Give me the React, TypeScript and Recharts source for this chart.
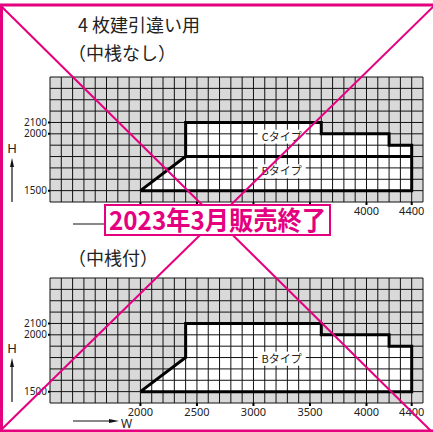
import React from 'react'
import { ComposedChart, Area, Scatter, XAxis, YAxis, CartesianGrid } from 'recharts'

// W (mm) / H (mm)
const wTicks = [2000, 2500, 3000, 3500, 4000, 4400]
const hTicks = [1500, 2000, 2100]
const gridW = [1200, 1300, 1400, 1500, 1600, 1700, 1800, 1900, 2000, 2100, 2200, 2300, 2400, 2500, 2600, 2700, 2800, 2900, 3000, 3100, 3200, 3300, 3400, 3500, 3600, 3700, 3800, 3900, 4000, 4100, 4200, 4300, 4400, 4500]
const gridH = [1400, 1500, 1600, 1700, 1800, 1900, 2000, 2100, 2200, 2300, 2400, 2500]
// labels left visible above the banner in the upper chart
const wTicksShownTop = [4000, 4400]

// available range (outer boundary)
const rangeTop = [
  { w: 2000, h: 1500 },
  { w: 2400, h: 1800 },
  { w: 2400, h: 2100 },
  { w: 3600, h: 2100 },
  { w: 3600, h: 2000 },
  { w: 4200, h: 2000 },
  { w: 4200, h: 1900 },
  { w: 4400, h: 1900 },
  { w: 4400, h: 1500 }
]
const rangeOutline = [...rangeTop, { w: 2000, h: 1500 }]
// B / C boundary (中桟なし only)
const bcDivider = [{ w: 2400, h: 1800 }, { w: 4400, h: 1800 }]

const labelsNoMullion = [
  { w: 3250, h: 1975, name: 'Cタイプ' },
  { w: 3250, h: 1670, name: 'Bタイプ' }
]
const labelsMullion = [{ w: 3250, h: 1790, name: 'Bタイプ' }]

const PINK = '#e4007f'
const FONT = '"Noto Sans", "Noto Sans CJK JP", sans-serif'
const JP = '"Noto Sans CJK JP", sans-serif'

const TypeLabel = (p: any) => {
  const { cx, cy, payload } = p
  return (
    <g>
      <rect x={cx - 24} y={cy - 7} width={48} height={14} fill="#fff" />
      <text x={cx} y={cy + 4} textAnchor="middle" fontSize={11} fontFamily={JP} fill="#222">{payload.name}</text>
    </g>
  )
}

const Empty = () => <g />

function RangeChart({ labels, divider, shown }: { labels: any[]; divider: boolean; shown: number[] }) {
  const WTick = (p: any) => {
    const { x, y, payload } = p
    if (!shown.includes(payload.value)) return <g />
    return (
      <text x={x} y={y + 8} textAnchor="middle" fontSize={11} fill="#222" fontFamily={FONT}>{payload.value}</text>
    )
  }
  const HTick = (p: any) => {
    const { x, y, payload } = p
    return (
      <text x={x + 1} y={y + 3.5} textAnchor="end" fontSize={10} fill="#222" fontFamily={FONT}>{payload.value}</text>
    )
  }
  return (
    <ComposedChart width={433} height={230} data={rangeTop} margin={{ top: 77, right: 10, bottom: 0, left: 10 }}>
      <CartesianGrid fill="#d9d9d9" horizontal={false} vertical={false} />
      <XAxis dataKey="w" type="number" domain={[1200, 4500]} ticks={wTicks} interval={0} axisLine={false}
        tickSize={3} tickLine={{ stroke: '#000', strokeWidth: 2 }} height={28} tick={WTick} />
      <YAxis dataKey="h" type="number" domain={[1400, 2500]} ticks={hTicks} interval={0} axisLine={false}
        tickSize={2} tickLine={{ stroke: '#000', strokeWidth: 2 }} width={40} tick={HTick} />
      <Area type="linear" dataKey="h" baseValue={1500} fill="#fff" fillOpacity={1} stroke="none" isAnimationActive={false} />
      <CartesianGrid zIndex={300} fill="none" stroke="#111" strokeDasharray="" horizontalValues={gridH} verticalValues={gridW} />
      <Scatter data={rangeOutline} line={{ stroke: '#000', strokeWidth: 3 }} lineType="joint" shape={Empty} isAnimationActive={false} zIndex={700} />
      {divider && <Scatter data={bcDivider} line={{ stroke: '#000', strokeWidth: 3 }} lineType="joint" shape={Empty} isAnimationActive={false} zIndex={700} />}
      <Scatter data={labels} shape={TypeLabel} isAnimationActive={false} zIndex={800} />
    </ComposedChart>
  )
}

export default function App() {
  return (
    <div style={{ position: 'absolute', left: 0, top: 0, width: 433, height: 432, background: '#fff' }}>
      <div style={{ position: 'absolute', left: 0, top: 0 }}>
        <RangeChart labels={labelsNoMullion} divider shown={wTicksShownTop} />
      </div>
      <div style={{ position: 'absolute', left: 0, top: 201 }}>
        <RangeChart labels={labelsMullion} divider={false} shown={wTicks} />
      </div>
      <svg width={433} height={432} style={{ position: 'absolute', left: 0, top: 0, pointerEvents: 'none' }}>
        <text x={78} y={32} fontSize={18} fontFamily={JP} fill="#222">4 枚建引違い用</text>
        <text x={68} y={60} fontSize={18} fontFamily={JP} fill="#222">（中桟なし）</text>
        <text x={68} y={265} fontSize={18} fontFamily={JP} fill="#222">（中桟付）</text>

        {/* H arrows */}
        <text x={12} y={153} fontSize={13} fontFamily={FONT} textAnchor="middle" fill="#222">H</text>
        <line x1={12} y1={202} x2={12} y2={164} stroke="#111" strokeWidth={1.2} />
        <polygon points="12,158 10,167 14,167" fill="#111" />
        <text x={12} y={353} fontSize={13} fontFamily={FONT} textAnchor="middle" fill="#222">H</text>
        <line x1={12} y1={402} x2={12} y2={364} stroke="#111" strokeWidth={1.2} />
        <polygon points="12,358 10,367 14,367" fill="#111" />

        {/* W arrows */}
        <line x1={73} y1={224} x2={110} y2={224} stroke="#111" strokeWidth={1.2} />
        <line x1={73} y1={421} x2={112} y2={421} stroke="#111" strokeWidth={1.2} />
        <polygon points="119,421 109,419 109,423" fill="#111" />
        <text x={121} y={428} fontSize={12} fontFamily={FONT} fill="#222">W</text>

        {/* discontinued mark */}
        <rect x={1.5} y={5} width={440} height={426} fill="none" stroke={PINK} strokeWidth={3} />
        <line x1={0} y1={5} x2={433} y2={433} stroke={PINK} strokeWidth={2} />
        <line x1={435} y1={5} x2={0} y2={431} stroke={PINK} strokeWidth={2} />
        <rect x={105} y={205} width={225} height={30} fill="#fff" stroke={PINK} strokeWidth={2} />
        <text x={109} y={230} fontSize={26} fontWeight={700} fontFamily={JP} fill={PINK}
          textLength={217} lengthAdjust="spacingAndGlyphs">2023年3月販売終了</text>
      </svg>
    </div>
  )
}
